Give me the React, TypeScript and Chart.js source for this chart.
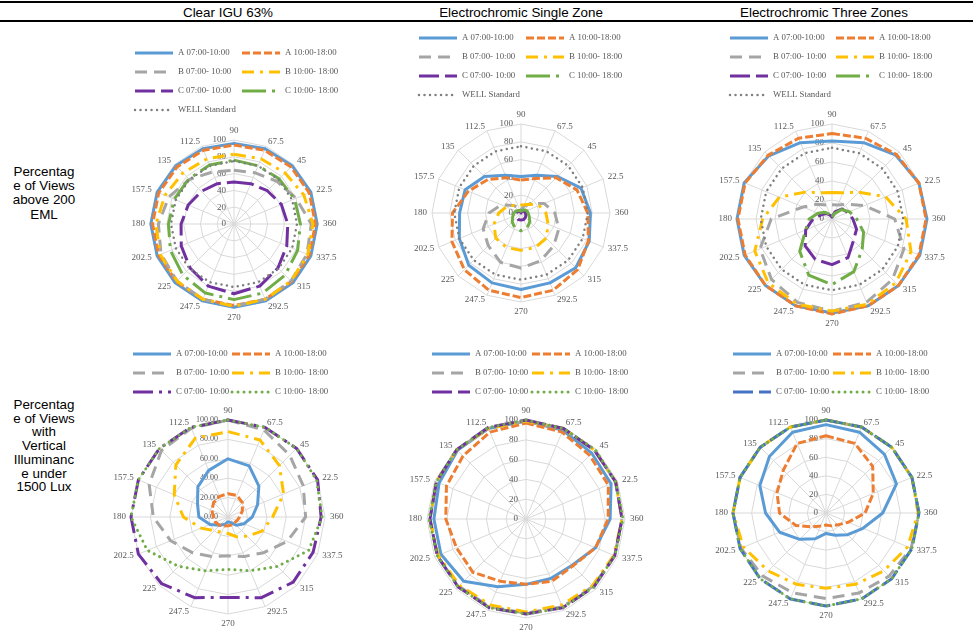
import React, { useEffect, useRef } from 'react';
import { Chart, registerables } from 'chart.js';

Chart.register(...registerables);

// ---------- categories, tick labels, titles ----------
const CATEGORIES = ['90', '67.5', '45', '22.5', '360', '337.5', '315', '292.5', '270', '247.5', '225', '202.5', '180', '157.5', '135', '112.5'];
const TICKS_WHOLE = ['0', '20', '40', '60', '80', '100'];
const TICKS_DECIMAL = ['0.00', '20.00', '40.00', '60.00', '80.00', '100.00'];
const COLUMN_TITLES = ['Clear IGU 63%', 'Electrochromic Single Zone', 'Electrochromic Three Zones'];
const ROW_TITLE_EML = ['Percentag', 'e of Views', 'above 200', 'EML'];
const ROW_TITLE_LUX = ['Percentag', 'e of Views', 'with', 'Vertical', 'Illuminanc', 'e under', '1500 Lux'];
const SERIES_NAMES = ['A 07:00-10:00', 'A 10:00-18:00', 'B 07:00- 10:00', 'B 10:00- 18:00', 'C 07:00- 10:00', 'C 10:00- 18:00', 'WELL Standard'];

// ---------- data: Percentage of views above 200 EML ----------
const CLEAR_EML_A1 = [96, 97, 98, 99, 99, 99, 99, 99, 99, 99, 99, 99, 99, 99, 98, 97];
const CLEAR_EML_A2 = [94, 95, 96, 97, 97, 97, 97, 97, 97, 97, 97, 97, 97, 97, 96, 95];
const CLEAR_EML_B1 = [64, 66, 72, 80, 92, 94, 96, 97, 98, 97, 96, 94, 90, 84, 75, 67];
const CLEAR_EML_B2 = [83, 84, 86, 90, 94, 95, 96, 97, 98, 97, 96, 95, 93, 89, 86, 84];
const CLEAR_EML_C1 = [50, 52, 56, 61, 64, 68, 74, 80, 83, 80, 74, 68, 63, 59, 55, 52];
const CLEAR_EML_C2 = [76, 75, 76, 78, 79, 82, 86, 89, 90, 89, 86, 82, 78, 77, 76, 76];

const SINGLE_EML_A1 = [41, 46, 58, 73, 78, 83, 87, 85, 86, 85, 83, 75, 69, 68, 58, 46];
const SINGLE_EML_A2 = [37, 42, 56, 68, 75, 82, 90, 94, 95, 94, 90, 84, 77, 64, 53, 43];
const SINGLE_EML_B1 = [4, 8, 15, 28, 38, 46, 52, 58, 62, 60, 52, 46, 36, 24, 12, 6];
const SINGLE_EML_B2 = [9, 10, 14, 22, 28, 33, 40, 42, 42, 42, 40, 33, 25, 18, 12, 9];
const SINGLE_EML_C1 = [0, 2, 3, 4, 5, 6, 7, 8, 8, 8, 7, 6, 5, 4, 3, 2];
const SINGLE_EML_C2 = [2, 3, 5, 7, 8, 10, 14, 18, 20, 18, 14, 10, 8, 6, 4, 3];

const THREE_EML_A1 = [82, 87, 95, 99, 100, 100, 99, 99, 99, 99, 99, 100, 100, 100, 94, 87];
const THREE_EML_A2 = [90, 92, 96, 99, 99, 99, 99, 99, 100, 99, 99, 99, 99, 99, 95, 92];
const THREE_EML_B1 = [15, 16, 22, 37, 66, 82, 90, 95, 97, 95, 90, 82, 64, 33, 22, 16];
const THREE_EML_B2 = [28, 30, 40, 61, 78, 90, 95, 97, 97, 97, 95, 88, 73, 60, 40, 30];
const THREE_EML_C1 = [2, 8, 15, 18, 22, 28, 32, 44, 48, 46, 40, 30, 20, 12, 8, 4];
const THREE_EML_C2 = [2, 6, 14, 20, 26, 36, 45, 60, 69, 64, 48, 30, 24, 16, 10, 5];

const WELL_STANDARD = [75, 75, 75, 75, 75, 75, 75, 75, 75, 75, 75, 75, 75, 75, 75, 75];

// ---------- data: Percentage of views with vertical illuminance under 1500 lux ----------
const CLEAR_LUX_A1 = [60, 57, 45, 33, 25, 18, 12, 6, 5, 8, 12, 20, 30, 34, 44, 52];
const CLEAR_LUX_A2 = [24, 24, 21, 16, 12, 10, 9, 9, 9, 10, 12, 14, 15, 18, 21, 23];
const CLEAR_LUX_B1 = [100, 97, 90, 84, 80, 66, 52, 44, 40, 44, 52, 64, 77, 88, 97, 99];
const CLEAR_LUX_B2 = [88, 86, 75, 62, 46, 38, 28, 22, 17, 17, 20, 30, 46, 60, 76, 88];
const CLEAR_LUX_C1 = [100, 100, 100, 100, 96, 95, 95, 90, 83, 90, 97, 100, 100, 100, 100, 100];
const CLEAR_LUX_C2 = [100, 100, 100, 99, 97, 90, 72, 60, 54, 60, 72, 90, 100, 100, 100, 100];

const SINGLE_LUX_A1 = [99, 97, 94, 93, 85, 76, 66, 65, 66, 74, 89, 93, 93, 95, 98, 99];
const SINGLE_LUX_A2 = [97, 95, 91, 90, 83, 76, 67, 68, 66, 68, 76, 76, 81, 87, 90, 95];
const SINGLE_LUX_B1 = [99, 99, 98, 98, 97, 97, 96, 96, 95, 96, 96, 97, 97, 98, 99, 99];
const SINGLE_LUX_B2 = [99, 99, 98, 98, 97, 96, 95, 94, 94, 94, 95, 96, 97, 98, 99, 99];
const SINGLE_LUX_C1 = [100, 99, 98, 98, 97, 97, 97, 97, 96, 97, 97, 97, 97, 98, 99, 100];
const SINGLE_LUX_C2 = [100, 99, 99, 98, 98, 97, 97, 97, 96, 97, 97, 97, 98, 98, 99, 100];

const THREE_LUX_A1 = [95, 94, 89, 82, 61, 43, 33, 26, 22, 30, 40, 54, 65, 77, 86, 94];
const THREE_LUX_A2 = [83, 81, 71, 55, 42, 26, 18, 15, 13, 15, 21, 35, 50, 57, 65, 81];
const THREE_LUX_B1 = [100, 100, 100, 100, 100, 99, 96, 93, 92, 93, 96, 99, 100, 100, 100, 100];
const THREE_LUX_B2 = [100, 100, 100, 100, 99, 95, 88, 83, 81, 83, 88, 96, 100, 100, 100, 100];
const THREE_LUX_C1 = [100, 100, 100, 100, 100, 100, 100, 100, 100, 100, 100, 100, 100, 100, 100, 100];
const THREE_LUX_C2 = [100, 100, 100, 100, 100, 100, 100, 100, 100, 100, 100, 100, 100, 100, 100, 100];

// ---------- styles ----------
type LineStyle = { color: string; width: number; dash: number[]; cap: CanvasLineCap };
const ST_A1: LineStyle = { color: '#5B9BD5', width: 3, dash: [], cap: 'butt' };
const ST_A2: LineStyle = { color: '#ED7D31', width: 3, dash: [8, 3], cap: 'butt' };
const ST_B1: LineStyle = { color: '#A5A5A5', width: 3, dash: [12, 7], cap: 'butt' };
const ST_B2: LineStyle = { color: '#FFC000', width: 3, dash: [12, 6, 3, 6], cap: 'butt' };
const ST_C1_DASH: LineStyle = { color: '#7030A0', width: 3, dash: [20, 6], cap: 'butt' };
const ST_C1_DASHDOT: LineStyle = { color: '#7030A0', width: 3, dash: [20, 6, 3, 6], cap: 'butt' };
const ST_C1_NAVY: LineStyle = { color: '#4472C4', width: 3, dash: [20, 6], cap: 'butt' };
const ST_C2_DASHDOT: LineStyle = { color: '#70AD47', width: 3, dash: [24, 6, 3, 6], cap: 'butt' };
const ST_C2_DOT: LineStyle = { color: '#70AD47', width: 3, dash: [0.01, 6], cap: 'round' };
const ST_WELL: LineStyle = { color: '#7F7F7F', width: 2.5, dash: [0.01, 5.5], cap: 'round' };

const TEXT_GREY = '#595959';
const SERIF = '"Liberation Serif", "Times New Roman", serif';
const SANS = '"Liberation Sans", Arial, sans-serif';

type Geom = { left: number; top: number; width: number; height: number; cx: number; cy: number; r: number };
type LegendPos = { x: number; y: number; colStep: number; rowStep: number };
type Panel = {
  series: number[][];
  styles: LineStyle[];
  ticks: string[];
  tickFont: number;
  tickGap: number;
  geom: Geom;
  legend: LegendPos;
};

const PANELS: Panel[] = [
  {
    series: [CLEAR_EML_A1, CLEAR_EML_A2, CLEAR_EML_B1, CLEAR_EML_B2, CLEAR_EML_C1, CLEAR_EML_C2, WELL_STANDARD],
    styles: [ST_A1, ST_A2, ST_B1, ST_B2, ST_C1_DASH, ST_C2_DASHDOT, ST_WELL],
    ticks: TICKS_WHOLE, tickFont: 9, tickGap: 8,
    geom: { left: 110, top: 24, width: 262, height: 306, cx: 234, cy: 224, r: 84 },
    legend: { x: 135, y: 53, colStep: 107, rowStep: 19 },
  },
  {
    series: [SINGLE_EML_A1, SINGLE_EML_A2, SINGLE_EML_B1, SINGLE_EML_B2, SINGLE_EML_C1, SINGLE_EML_C2, WELL_STANDARD],
    styles: [ST_A1, ST_A2, ST_B1, ST_B2, ST_C1_DASH, ST_C2_DASHDOT, ST_WELL],
    ticks: TICKS_WHOLE, tickFont: 9, tickGap: 8,
    geom: { left: 395, top: 24, width: 270, height: 306, cx: 521, cy: 213, r: 89 },
    legend: { x: 419, y: 38, colStep: 107, rowStep: 19 },
  },
  {
    series: [THREE_EML_A1, THREE_EML_A2, THREE_EML_B1, THREE_EML_B2, THREE_EML_C1, THREE_EML_C2, WELL_STANDARD],
    styles: [ST_A1, ST_A2, ST_B1, ST_B2, ST_C1_DASH, ST_C2_DASHDOT, ST_WELL],
    ticks: TICKS_WHOLE, tickFont: 9, tickGap: 8,
    geom: { left: 690, top: 24, width: 283, height: 306, cx: 832, cy: 219, r: 95 },
    legend: { x: 730, y: 38, colStep: 106, rowStep: 19 },
  },
  {
    series: [CLEAR_LUX_A1, CLEAR_LUX_A2, CLEAR_LUX_B1, CLEAR_LUX_B2, CLEAR_LUX_C1, CLEAR_LUX_C2],
    styles: [ST_A1, ST_A2, ST_B1, ST_B2, ST_C1_DASHDOT, ST_C2_DOT],
    ticks: TICKS_DECIMAL, tickFont: 8, tickGap: 10,
    geom: { left: 100, top: 336, width: 272, height: 298, cx: 228, cy: 517, r: 97 },
    legend: { x: 133, y: 354, colStep: 99, rowStep: 19 },
  },
  {
    series: [SINGLE_LUX_A1, SINGLE_LUX_A2, SINGLE_LUX_B1, SINGLE_LUX_B2, SINGLE_LUX_C1, SINGLE_LUX_C2],
    styles: [ST_A1, ST_A2, ST_B1, ST_B2, ST_C1_DASH, ST_C2_DOT],
    ticks: TICKS_WHOLE, tickFont: 9, tickGap: 8,
    geom: { left: 400, top: 336, width: 270, height: 298, cx: 526, cy: 519, r: 99 },
    legend: { x: 432, y: 354, colStep: 100, rowStep: 19 },
  },
  {
    series: [THREE_LUX_A1, THREE_LUX_A2, THREE_LUX_B1, THREE_LUX_B2, THREE_LUX_C1, THREE_LUX_C2],
    styles: [ST_A1, ST_A2, ST_B1, ST_B2, ST_C1_NAVY, ST_C2_DOT],
    ticks: TICKS_WHOLE, tickFont: 9, tickGap: 8,
    geom: { left: 700, top: 336, width: 273, height: 298, cx: 826, cy: 513, r: 93 },
    legend: { x: 733, y: 354, colStep: 100, rowStep: 19 },
  },
];

const LEGEND_SAMPLE = 38;
const LEGEND_TEXT_OFFSET = 43;
const POINT_LABEL_PAD = 5;

function RadarPanel({ panel }: { panel: Panel }) {
  const ref = useRef<HTMLCanvasElement | null>(null);
  const g = panel.geom;

  useEffect(() => {
    if (!ref.current) return;
    const lx = g.cx - g.left;
    const ly = g.cy - g.top;

    const labelPlugin = {
      id: 'excelRadarLabels',
      beforeDatasetsDraw(chart: any) {
        const scale = chart.scales.r;
        const ctx = chart.ctx as CanvasRenderingContext2D;
        ctx.save();
        ctx.font = `${panel.tickFont}px ${SERIF}`;
        ctx.fillStyle = TEXT_GREY;
        ctx.textAlign = 'right';
        ctx.textBaseline = 'middle';
        scale.ticks.forEach((t: any) => {
          const d = scale.getDistanceFromCenterForValue(t.value);
          ctx.fillText(String(t.label), scale.xCenter - panel.tickGap, scale.yCenter - d);
        });
        ctx.restore();
      },
      afterDraw(chart: any) {
        const scale = chart.scales.r;
        const ctx = chart.ctx as CanvasRenderingContext2D;
        ctx.save();
        ctx.font = `9px ${SERIF}`;
        ctx.fillStyle = TEXT_GREY;
        (chart.data.labels as string[]).forEach((lab, i) => {
          const p = scale.getPointPosition(i, scale.drawingArea + POINT_LABEL_PAD);
          const c = Math.cos(p.angle);
          const s = Math.sin(p.angle);
          let x = p.x;
          let y = p.y;
          if (Math.abs(c) < 0.05) {
            ctx.textAlign = 'center';
            y += s < 0 ? -4.5 : 4.5;
          } else {
            ctx.textAlign = c > 0 ? 'left' : 'right';
          }
          ctx.textBaseline = 'middle';
          ctx.fillText(lab, x, y);
        });
        ctx.restore();

        // legend
        const lg = panel.legend;
        chart.data.datasets.forEach((ds: any, i: number) => {
          const col = i % 2;
          const row = Math.floor(i / 2);
          const x = lg.x - g.left + col * lg.colStep;
          const y = lg.y - g.top + row * lg.rowStep;
          const st = panel.styles[i];
          ctx.save();
          ctx.strokeStyle = st.color;
          ctx.lineWidth = st.width;
          ctx.lineCap = st.cap;
          ctx.setLineDash(st.dash);
          ctx.beginPath();
          ctx.moveTo(x, y);
          ctx.lineTo(x + LEGEND_SAMPLE, y);
          ctx.stroke();
          ctx.restore();
          ctx.save();
          ctx.font = `8.8px ${SERIF}`;
          ctx.fillStyle = TEXT_GREY;
          ctx.textAlign = 'left';
          ctx.textBaseline = 'middle';
          ctx.fillText(ds.label, x + LEGEND_TEXT_OFFSET, y);
          ctx.restore();
        });
      },
    };

    const chart = new Chart(ref.current, {
      type: 'radar',
      data: {
        labels: CATEGORIES,
        datasets: panel.series.map((values, i) => {
          const st = panel.styles[i];
          return {
            label: SERIES_NAMES[i],
            data: values,
            borderColor: st.color,
            backgroundColor: st.color,
            borderWidth: st.width,
            borderDash: st.dash,
            borderCapStyle: st.cap,
            borderJoinStyle: 'round',
            fill: false,
            pointRadius: 0,
            pointHoverRadius: 0,
            pointHitRadius: 0,
            tension: 0,
            clip: false,
            order: -i,
          } as any;
        }),
      },
      options: {
        responsive: false,
        animation: false,
        events: [],
        layout: {
          padding: {
            left: lx - g.r,
            top: ly - g.r,
            right: g.width - (lx + g.r),
            bottom: g.height - (ly + g.r),
          },
        },
        plugins: {
          legend: { display: false },
          tooltip: { enabled: false },
          title: { display: false },
        },
        scales: {
          r: {
            min: 0,
            max: 100,
            ticks: {
              stepSize: 20,
              display: false,
              callback: (_v: any, idx: number) => panel.ticks[idx],
            },
            grid: { color: '#D9D9D9', lineWidth: 1 },
            angleLines: { color: '#D9D9D9', lineWidth: 1 },
            pointLabels: { display: false },
          },
        },
      } as any,
      plugins: [labelPlugin as any],
    });
    return () => chart.destroy();
  }, [panel]);

  return (
    <canvas
      ref={ref}
      width={g.width}
      height={g.height}
      style={{ position: 'absolute', left: g.left, top: g.top, width: g.width, height: g.height }}
    />
  );
}

const COLUMN_CENTERS = [228, 521, 824];

export default function App() {
  return (
    <div
      style={{
        position: 'absolute', left: 0, top: 0, width: 973, height: 634,
        background: '#ffffff', overflow: 'hidden', fontFamily: SANS, color: '#000',
      }}
    >
      <div style={{ position: 'absolute', left: 0, top: 1, width: 973, height: 2, background: '#000' }} />
      <div style={{ position: 'absolute', left: 0, top: 20, width: 973, height: 1.5, background: '#000' }} />
      {COLUMN_TITLES.map((t, i) => (
        <div
          key={t}
          style={{
            position: 'absolute', left: COLUMN_CENTERS[i] - 150, top: 5, width: 300,
            textAlign: 'center', fontSize: 13.4, lineHeight: '16px', whiteSpace: 'nowrap',
          }}
        >
          {t}
        </div>
      ))}
      <div
        style={{
          position: 'absolute', left: 4, top: 164.5, width: 80, textAlign: 'center',
          fontSize: 13.4, lineHeight: '14.4px',
        }}
      >
        {ROW_TITLE_EML.map((l) => (<div key={l}>{l}</div>))}
      </div>
      <div
        style={{
          position: 'absolute', left: 4, top: 398, width: 80, textAlign: 'center',
          fontSize: 13.4, lineHeight: '13.7px',
        }}
      >
        {ROW_TITLE_LUX.map((l, i) => (<div key={l + i}>{l}</div>))}
      </div>
      {PANELS.map((p, i) => (
        <RadarPanel key={i} panel={p} />
      ))}
    </div>
  );
}
